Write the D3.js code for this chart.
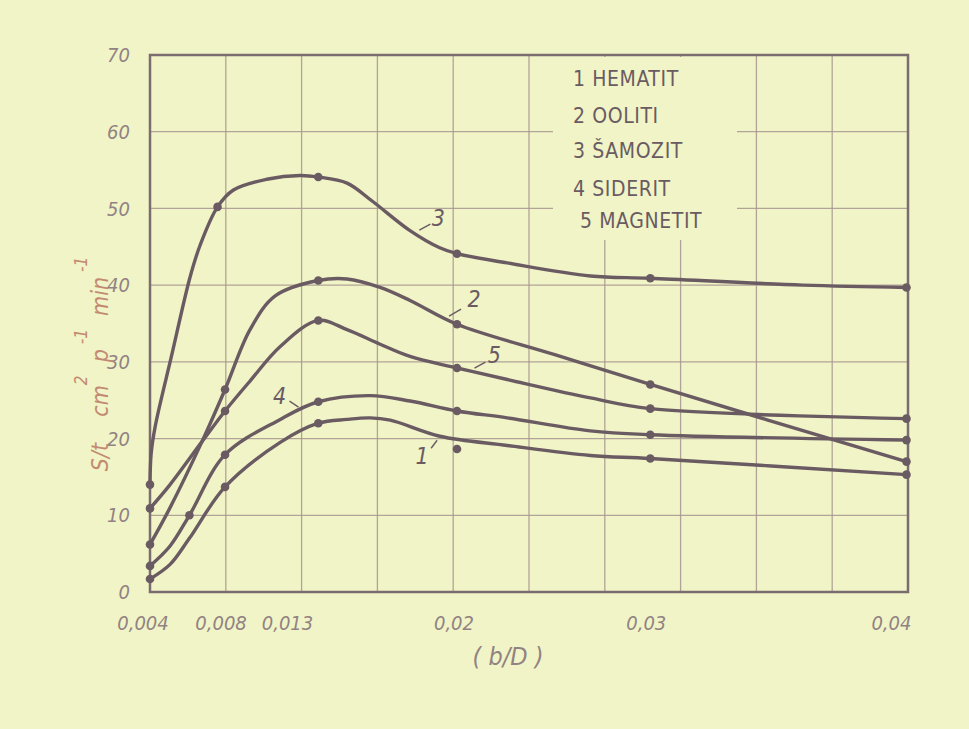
<!DOCTYPE html>
<html>
<head>
<meta charset="utf-8">
<script src="https://cdn.jsdelivr.net/npm/d3@7"></script>
<style>
  html, body { margin: 0; padding: 0; background: #f1f4c8; }
  svg { display: block; }
</style>
</head>
<body>
<svg id="chart" width="969" height="729"></svg>
<script>
// ---------------- DATA ----------------
const xTicks = [0.004, 0.008, 0.013, 0.02, 0.03, 0.04];
const xTickLabels = ["0,004", "0,008", "0,013", "0,02", "0,03", "0,04"];
const yTicks = [0, 10, 20, 30, 40, 50, 60, 70];
const legendLabels = ["1 HEMATIT", "2 OOLITI", "3 ŠAMOZIT", "4 SIDERIT", "5 MAGNETIT"];
const curveNumbers = ["1", "2", "3", "4", "5"];

// 1 HEMATIT
const hematitDotX = [0.004, 0.008, 0.013, 0.02, 0.03, 0.04];
const hematitDotY = [1.7, 13.7, 22.0, 18.65, 17.4, 15.3];
const hematitLineX = [0.004, 0.00507, 0.0061, 0.008, 0.01096, 0.013, 0.01445, 0.01562, 0.01663, 0.01914, 0.0226, 0.0269, 0.03, 0.04];
const hematitLineY = [1.7, 3.6, 7.0, 13.7, 19.5, 22.0, 22.5, 22.7, 22.4, 20.3, 19.1, 17.8, 17.4, 15.3];

// 2 OOLITI
const oolitiDotX = [0.004, 0.008, 0.013, 0.02, 0.03, 0.04];
const oolitiDotY = [6.2, 26.4, 40.6, 34.9, 27.05, 17.0];
const oolitiLineX = [0.004, 0.00507, 0.00677, 0.008, 0.00934, 0.01069, 0.013, 0.01445, 0.01612, 0.01763, 0.02, 0.0251, 0.03, 0.04];
const oolitiLineY = [6.2, 11.0, 19.6, 26.4, 34.2, 38.6, 40.6, 40.8, 39.7, 38.0, 34.9, 30.9, 27.05, 17.0];

// 3 ŠAMOZIT
const samozitDotX = [0.004, 0.0076, 0.013, 0.02, 0.03, 0.04];
const samozitDotY = [14.0, 50.2, 54.1, 44.1, 40.9, 39.7];
const samozitLineX = [0.004, 0.00406, 0.00427, 0.00516, 0.00613, 0.00667, 0.0076, 0.00845, 0.01024, 0.01203, 0.013, 0.01445, 0.0157, 0.01763, 0.0191, 0.02, 0.0226, 0.0269, 0.03, 0.03595, 0.04];
const samozitLineY = [14.0, 18.0, 21.5, 30.9, 41.0, 45.2, 50.2, 52.4, 53.8, 54.3, 54.1, 53.3, 51.0, 47.1, 44.9, 44.1, 42.9, 41.2, 40.9, 40.0, 39.7];

// 4 SIDERIT
const sideritDotX = [0.004, 0.0061, 0.008, 0.013, 0.02, 0.03, 0.04];
const sideritDotY = [3.4, 10.0, 17.9, 24.8, 23.6, 20.5, 19.8];
const sideritLineX = [0.004, 0.00507, 0.0061, 0.008, 0.01096, 0.013, 0.01562, 0.01763, 0.02, 0.0226, 0.0269, 0.03, 0.04];
const sideritLineY = [3.4, 6.0, 10.0, 17.9, 22.5, 24.8, 25.6, 24.9, 23.6, 22.7, 21.0, 20.5, 19.8];

// 5 MAGNETIT
const magnetitDotX = [0.004, 0.008, 0.013, 0.02, 0.03, 0.04];
const magnetitDotY = [10.9, 23.6, 35.4, 29.2, 23.9, 22.6];
const magnetitLineX = [0.004, 0.00507, 0.00677, 0.008, 0.00934, 0.01096, 0.013, 0.01445, 0.01612, 0.01763, 0.02, 0.0226, 0.0269, 0.03, 0.04];
const magnetitLineY = [10.9, 14.0, 19.6, 23.6, 27.5, 32.0, 35.4, 34.2, 32.3, 30.7, 29.2, 27.7, 25.3, 23.9, 22.6];

// curve-number annotations: point on the curve (data units)
const annoX = [0.0192, 0.0195, 0.0181, 0.0121, 0.0208];
const annoY = [20.3, 35.3, 46.4, 24.1, 28.8];

// ---------------- LAYOUT / STYLE ----------------
const W = 969, H = 729;
const mLeft = 150, mRight = 908, mTop = 55, mBottom = 592;
const plotW = mRight - mLeft;
const xFrac = [0, 0.099, 0.222, 0.405, 0.66, 0.998];
const xTickAnchor = ["middle", "middle", "end", "middle", "middle", "end"];
const xTickDx = [-7, -4, -5, -3, -4, 5];
// tick offsets (px) from the curve point: [x1,y1,x2,y2,textX,textY]
const annoOffsets = [
  [-4, 4, -10, 12, -19, 28],
  [2, -5, 14, -12, 27, -14],
  [0, -6, 11, -12, 19, -10],
  [-3, 0, -12, -6, -22, -3],
  [2, -3, 13, -9, 22, -8]
];
const paper = "#f0f4c6";
const ink = "#6a5b63";
const gridColor = "#a89690";
const labelColor = "#928283";
const titleColor = "#c38a72";
const fontStack = "'DejaVu Sans Condensed', 'Liberation Sans Narrow', 'DejaVu Sans', sans-serif";

const svg = d3.select("#chart");
svg.append("rect").attr("width", W).attr("height", H).attr("fill", paper);

const x = d3.scaleLinear().domain(xTicks).range(xFrac.map(f => mLeft + f * plotW));
const y = d3.scaleLinear().domain([0, 70]).range([mBottom, mTop]);
const gridX = d3.scaleLinear().domain([0, 10]).range([mLeft, mRight]);

// grid
const grid = svg.append("g");
grid.selectAll("line.v").data(d3.range(1, 10)).join("line")
  .attr("x1", d => gridX(d)).attr("x2", d => gridX(d))
  .attr("y1", mTop).attr("y2", mBottom)
  .attr("stroke", gridColor).attr("stroke-width", 1.3).attr("opacity", 0.85);
grid.selectAll("line.h").data(yTicks.slice(1, -1)).join("line")
  .attr("x1", mLeft).attr("x2", mRight)
  .attr("y1", d => y(d)).attr("y2", d => y(d))
  .attr("stroke", gridColor).attr("stroke-width", 1.3).attr("opacity", 0.85);

// legend area (blank paper over grid)
svg.append("rect").attr("x", 553).attr("y", mTop + 2).attr("width", 184).attr("height", 183)
  .attr("fill", paper);

// frame
svg.append("rect").attr("x", mLeft).attr("y", mTop).attr("width", plotW).attr("height", mBottom - mTop)
  .attr("fill", "none").attr("stroke", "#7b6c70").attr("stroke-width", 2.5);

// y tick labels
svg.append("g").selectAll("text").data(yTicks).join("text")
  .attr("x", mLeft - 20).attr("y", d => y(d))
  .attr("dy", "0.36em").attr("text-anchor", "end")
  .attr("font-family", fontStack).attr("font-size", 20).attr("font-style", "italic")
  .attr("fill", labelColor).text(d => d);

// x tick labels
svg.append("g").selectAll("text").data(xTicks).join("text")
  .attr("x", (d, i) => x(d) + xTickDx[i]).attr("y", 630)
  .attr("text-anchor", (d, i) => xTickAnchor[i])
  .attr("font-family", fontStack).attr("font-size", 20).attr("font-style", "italic")
  .attr("fill", labelColor).text((d, i) => xTickLabels[i]);

// x title
svg.append("text").attr("x", 508).attr("y", 665).attr("text-anchor", "middle")
  .attr("font-family", fontStack).attr("font-size", 25).attr("font-style", "italic")
  .attr("fill", labelColor).attr("xml:space", "preserve").text("( b/D )");

// y title
const yt = svg.append("text")
  .attr("transform", "translate(108,364) rotate(-90)")
  .attr("text-anchor", "middle")
  .attr("font-family", fontStack).attr("font-size", 23).attr("font-style", "italic")
  .attr("fill", titleColor).attr("xml:space", "preserve");
yt.append("tspan").text("S/t    cm");
yt.append("tspan").attr("dy", -21).attr("font-size", 17).text("2");
yt.append("tspan").attr("dy", 21).text("  p");
yt.append("tspan").attr("dy", -21).attr("font-size", 17).text(" -1");
yt.append("tspan").attr("dy", 21).text("  min");
yt.append("tspan").attr("dy", -21).attr("font-size", 17).text(" -1");

// series
const series = [
  { lx: hematitLineX, ly: hematitLineY, dx: hematitDotX, dy: hematitDotY },
  { lx: oolitiLineX, ly: oolitiLineY, dx: oolitiDotX, dy: oolitiDotY },
  { lx: samozitLineX, ly: samozitLineY, dx: samozitDotX, dy: samozitDotY },
  { lx: sideritLineX, ly: sideritLineY, dx: sideritDotX, dy: sideritDotY },
  { lx: magnetitLineX, ly: magnetitLineY, dx: magnetitDotX, dy: magnetitDotY }
];
const line = d3.line().x(d => x(d[0])).y(d => y(d[1])).curve(d3.curveCatmullRom.alpha(0.5));
const sg = svg.append("g");
series.forEach(s => {
  const pts = s.lx.map((v, i) => [v, s.ly[i]]);
  sg.append("path").datum(pts).attr("d", line)
    .attr("fill", "none").attr("stroke", ink).attr("stroke-width", 3.4)
    .attr("stroke-linejoin", "round").attr("stroke-linecap", "round");
  const dots = s.dx.map((v, i) => [v, s.dy[i]]);
  sg.selectAll(null).data(dots).join("circle")
    .attr("cx", d => x(d[0])).attr("cy", d => y(d[1])).attr("r", 4.3)
    .attr("fill", ink);
});

// curve number annotations
const ag = svg.append("g");
curveNumbers.forEach((t, i) => {
  const px = x(annoX[i]), py = y(annoY[i]);
  const o = annoOffsets[i];
  ag.append("line").attr("x1", px + o[0]).attr("y1", py + o[1])
    .attr("x2", px + o[2]).attr("y2", py + o[3])
    .attr("stroke", ink).attr("stroke-width", 1.4);
  ag.append("text").attr("x", px + o[4]).attr("y", py + o[5])
    .attr("text-anchor", "middle")
    .attr("font-family", fontStack).attr("font-size", 23).attr("font-style", "italic")
    .attr("fill", ink).text(t);
});

// legend
svg.append("g").selectAll("text").data(legendLabels).join("text")
  .attr("x", (d, i) => i === 4 ? 580 : 573)
  .attr("y", (d, i) => [86, 123, 158, 196, 228][i])
  .attr("font-family", fontStack).attr("font-size", 21)
  .attr("letter-spacing", 0.6)
  .attr("fill", ink).text(d => d);
</script>
</body>
</html>
